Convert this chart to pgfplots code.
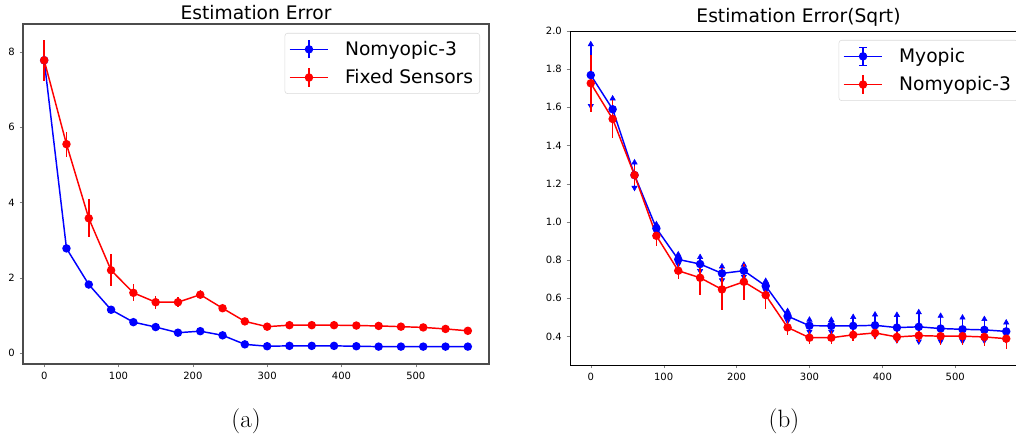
\documentclass[border=0pt]{standalone}
\usepackage{fontspec}
\usepackage{pgfplots}
\pgfplotsset{compat=1.18}
\newfontfamily\dejavu{DejaVu Sans}

\pgfplotstableread{
x y e
0 7.78 0.03
30 2.78 0.03
60 1.82 0.03
90 1.15 0.03
120 0.82 0.03
150 0.69 0.03
180 0.54 0.03
210 0.58 0.03
240 0.47 0.03
270 0.23 0.02
300 0.18 0.02
330 0.19 0.02
360 0.19 0.02
390 0.19 0.02
420 0.18 0.02
450 0.17 0.02
480 0.17 0.02
510 0.17 0.02
540 0.17 0.02
570 0.17 0.02
}\leftblue

\pgfplotstableread{
x y e
0 7.78 0.54
30 5.55 0.33
60 3.58 0.50
90 2.20 0.43
120 1.60 0.23
150 1.35 0.17
180 1.35 0.13
210 1.55 0.12
240 1.19 0.05
270 0.84 0.04
300 0.70 0.03
330 0.74 0.03
360 0.74 0.03
390 0.74 0.03
420 0.73 0.03
450 0.72 0.03
480 0.70 0.03
510 0.68 0.03
540 0.64 0.03
570 0.59 0.03
}\leftred

\pgfplotstableread{
x y e
0 1.769 0.165
30 1.590 0.06
60 1.245 0.07
90 0.966 0.025
120 0.803 0.03
150 0.779 0.04
180 0.730 0.04
210 0.744 0.035
240 0.664 0.03
270 0.506 0.03
300 0.456 0.035
330 0.455 0.035
360 0.455 0.05
390 0.458 0.06
420 0.446 0.07
450 0.450 0.08
480 0.441 0.07
510 0.437 0.065
540 0.434 0.06
570 0.426 0.05
}\rightblue

\pgfplotstableread{
x y e
0 1.726 0.15
30 1.539 0.10
60 1.245 0.05
90 0.927 0.055
120 0.744 0.045
150 0.707 0.09
180 0.646 0.11
210 0.686 0.095
240 0.616 0.07
270 0.447 0.04
300 0.393 0.035
330 0.393 0.035
360 0.408 0.03
390 0.418 0.03
420 0.397 0.03
450 0.404 0.035
480 0.401 0.045
510 0.401 0.045
540 0.397 0.05
570 0.388 0.055
}\rightred

\begin{document}
\begin{tikzpicture}
\path[use as bounding box, clip] (0,0) rectangle (762pt,328.5pt);
\pgfplotsset{
  common/.style={
    scale only axis, anchor=south west,
    xmin=-28.5, xmax=598.5, xtick={0,100,...,500},
    tick align=outside, tick pos=left, major tick length=2.6pt,
    tick label style={font=\dejavu\fontsize{7.5}{9}\selectfont},
    /pgf/number format/assume math mode=true,
    title style={font=\dejavu\fontsize{14}{16}\selectfont, yshift=-6.2pt},
    legend cell align=left,
    legend style={font=\dejavu\fontsize{14}{16}\selectfont, at={(1,1)}, anchor=north east,
      xshift=-6.75pt, yshift=-6.75pt, draw=black!15, rounded corners=2pt,
      row sep=5pt, column sep=10pt, inner xsep=3pt, inner ysep=4pt},
  },
  errleg/.style={legend image code/.code={
      \draw[#1, line width=1.1pt] (0cm,0cm) -- (1.02cm,0cm);
      \draw[#1, line width=1.1pt] (0.51cm,-0.24cm) -- (0.51cm,0.24cm);
      \fill[#1] (0.51cm,0cm) circle[radius=2.6pt];
  }},
  capleg/.style={legend image code/.code={
      \draw[#1, line width=1.1pt] (0cm,0cm) -- (1.02cm,0cm);
      \draw[#1, line width=1.1pt] (0.51cm,-0.24cm) -- (0.51cm,0.24cm);
      \draw[#1, line width=1.1pt] (0.41cm,-0.24cm) -- (0.61cm,-0.24cm);
      \draw[#1, line width=1.1pt] (0.41cm,0.24cm) -- (0.61cm,0.24cm);
      \fill[#1] (0.51cm,0cm) circle[radius=2.6pt];
  }},
}
\begin{axis}[common, at={(17.25pt,55.5pt)}, width=349.5pt, height=255pt,
  ymin=-0.292, ymax=8.744, ytick={0,2,4,6,8},
  axis line style={draw=black!70, line width=0.9pt},
  title={Estimation Error}]
\addplot[blue, line width=1.1pt, mark=*, mark size=2.6pt, errleg=blue,
  error bars/.cd, y dir=both, y explicit, error mark=none,
  error bar style={line width=1.1pt}]
  table[x=x, y=y, y error=e]{\leftblue};
\addlegendentry{Nomyopic-3}
\addplot[red, line width=1.1pt, mark=*, mark size=2.6pt, errleg=red,
  error bars/.cd, y dir=both, y explicit, error mark=none,
  error bar style={line width=1.1pt}]
  table[x=x, y=y, y error=e]{\leftred};
\addlegendentry{Fixed Sensors}
\end{axis}

\begin{axis}[common, at={(427.5pt,54.75pt)}, width=342.75pt, height=250.5pt,
  ymin=0.25, ymax=2.0, ytick={0.4,0.6,...,2.01},
  yticklabel style={/pgf/number format/.cd, fixed, fixed zerofill, precision=1},
  axis line style={draw=black, line width=0.7pt},
  title={Estimation Error(Sqrt)}]
\addplot[blue, line width=1.1pt, mark=*, mark size=2.6pt, capleg=blue]
  table[x=x, y=y]{\rightblue};
\addlegendentry{Myopic}
\addplot[draw=none, mark=none, forget plot,
  error bars/.cd, y dir=both, y explicit, error mark=triangle*,
  error bar style={draw=blue, line width=1.1pt},
  error mark options={draw=blue, fill=blue, mark size=2.3pt, rotate=-90}]
  table[x=x, y=y, y error=e]{\rightblue};
\addplot[red, line width=1.1pt, mark=*, mark size=2.6pt, errleg=red,
  error bars/.cd, y dir=both, y explicit, error mark=none,
  error bar style={line width=1.1pt}]
  table[x=x, y=y, y error=e]{\rightred};
\addlegendentry{Nomyopic-3}
\end{axis}

\node[font=\fontsize{18.8}{22}\selectfont] at (184.5pt,12.75pt) {(a)};
\node[font=\fontsize{18.8}{22}\selectfont] at (588pt,12.75pt) {(b)};
\end{tikzpicture}
\end{document}
